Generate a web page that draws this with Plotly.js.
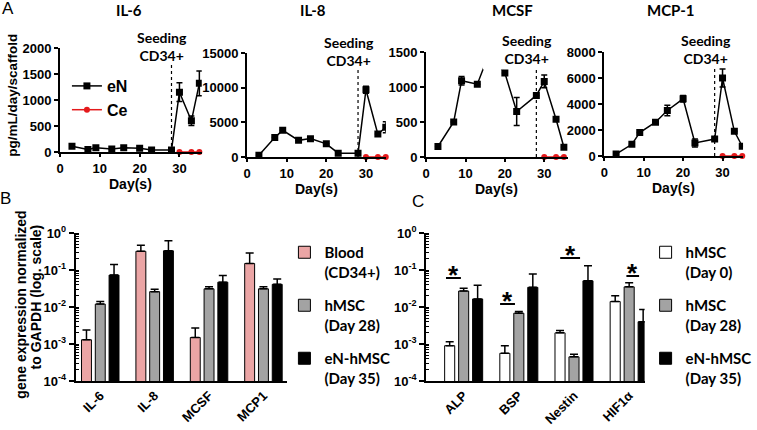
<!DOCTYPE html>
<html><head><meta charset="utf-8">
<script src="https://cdn.plot.ly/plotly-3.0.1.min.js"></script>
<style>html,body{margin:0;padding:0;background:#fff}</style>
</head><body><div id="chart" style="width:757px;height:430px"></div>
<script>
// ---------- Panel A data ----------
const days = [3, 7, 9, 13, 16, 20, 23, 28, 30, 33, 35];
const ceDays = [30, 33, 35];
const ceValues = [0, 0, 0];
const il6 = [110, 50, 80, 60, 80, 70, 40, 40, 1150, 600, 1320];
const il6Err = [0, 0, 0, 0, 0, 0, 0, 0, 180, 90, 240];
const il8 = [250, 2800, 3850, 2400, 2650, 1900, 550, 550, 9700, 3300, 4300];
const il8Err = [0, 0, 0, 0, 0, 0, 0, 0, 500, 0, 800];
const mcsf = [150, 500, 1090, 1040, 1480, 1200, 650, 880, 1080, 540, 140];
const mcsfErr = [0, 0, 60, 0, 0, 0, 200, 0, 90, 0, 0];
const mcp1 = [150, 900, 1800, 2600, 3500, 4400, 1000, 1300, 6000, 1900, 750];
const mcp1Err = [0, 0, 0, 0, 400, 250, 300, 0, 700, 0, 0];
const panelTitles = ['IL-6', 'IL-8', 'MCSF', 'MCP-1'];
const seedingDay = 28;

// ---------- Panel B data ----------
const genesB = ['IL-6', 'IL-8', 'MCSF', 'MCP1'];
const bloodB = [0.0013, 0.32, 0.0015, 0.15];
const bloodBErr = [0.0011, 0.15, 0.0012, 0.14];
const hmsc28B = [0.012, 0.026, 0.031, 0.031];
const hmsc28BErr = [0.002, 0.004, 0.004, 0.004];
const enB = [0.073, 0.33, 0.047, 0.041];
const enBErr = [0.067, 0.29, 0.024, 0.016];

// ---------- Panel C data ----------
const genesC = ['ALP', 'BSP', 'Nestin', 'HIF1α'];
const hmsc0C = [0.0009, 0.00056, 0.0020, 0.014];
const hmsc0CErr = [0.00025, 0.00034, 0.0003, 0.006];
const hmsc28C = [0.027, 0.0068, 0.00045, 0.035];
const hmsc28CErr = [0.005, 0.0007, 0.00008, 0.01];
const enC = [0.0165, 0.034, 0.051, 0.004];
const enCErr = [0.022, 0.044, 0.08, 0.0045];
const noErr = [0, 0, 0, 0];

const logTickVals = [1e-4, 1e-3, 1e-2, 1e-1, 1];
const logTickText = ['10<sup>-4</sup>', '10<sup>-3</sup>', '10<sup>-2</sup>', '10<sup>-1</sup>', '10<sup>0</sup>'];

// ---------- helpers ----------
const W = 757, H = 430;
const PX = v => v / W, PY = v => 1 - v / H;
const ARIAL = 'Liberation Sans, Arial, sans-serif';
const CALI = 'Lato, Open Sans, sans-serif';
const tickFont = {family: ARIAL, size: 13, color: '#000', weight: 'bold'};

function linAxis(domain, range, dtick, anchor, tlen) {
  return {domain, range, dtick, anchor, showline: true, linewidth: 2, linecolor: '#000',
    ticks: 'outside', ticklen: tlen, tickwidth: 2, tickcolor: '#000', showgrid: false,
    zeroline: false, tickfont: tickFont, tickformat: 'd', fixedrange: true};
}

const eNStyle = {line: {color: '#000', width: 1.5}, marker: {symbol: 'square', size: 7, color: '#000'}};
const ceStyle = {line: {color: '#e41a1c', width: 1.5}, marker: {symbol: 'circle', size: 6, color: '#e41a1c'}};

const series = [il6, il8, mcsf, mcp1];
const seriesErr = [il6Err, il8Err, mcsfErr, mcp1Err];
const traces = [];
series.forEach((vals, i) => {
  const n = i === 0 ? '' : String(i + 1);
  traces.push(Object.assign({type: 'scatter', mode: 'lines+markers', x: days, y: vals,
    xaxis: 'x' + n, yaxis: 'y' + n, name: 'eN', legend: 'legend3',
    showlegend: i === 0, cliponaxis: true,
    error_y: {type: 'data', array: seriesErr[i], color: '#000', thickness: 1.5, width: 3}}, eNStyle));
  traces.push(Object.assign({type: 'scatter', mode: 'lines+markers', x: ceDays, y: ceValues,
    xaxis: 'x' + n, yaxis: 'y' + n, name: 'Ce', legend: 'legend3',
    showlegend: i === 0, cliponaxis: false}, ceStyle));
});

function barTrace(x, y, err, xa, ya, name, color, legend, grp) {
  return {type: 'bar', x, y, xaxis: xa, yaxis: ya, name, legend, legendgroup: grp,
    marker: {color, line: {color: '#000', width: 1}},
    error_y: {type: 'data', symmetric: false, array: err, arrayminus: noErr, color: '#000', thickness: 1.5, width: 4}};
}
traces.push(barTrace(genesB, bloodB, bloodBErr, 'x5', 'y5', 'Blood<br>(CD34+)', '#eba5a5', 'legend', 'b1'));
traces.push(barTrace(genesB, hmsc28B, hmsc28BErr, 'x5', 'y5', 'hMSC<br>(Day 28)', '#a3a3a3', 'legend', 'b2'));
traces.push(barTrace(genesB, enB, enBErr, 'x5', 'y5', 'eN-hMSC<br>(Day 35)', '#000000', 'legend', 'b3'));
traces.push(barTrace(genesC, hmsc0C, hmsc0CErr, 'x6', 'y6', 'hMSC<br>(Day 0)', '#ffffff', 'legend2', 'c1'));
traces.push(barTrace(genesC, hmsc28C, hmsc28CErr, 'x6', 'y6', 'hMSC<br>(Day 28)', '#a3a3a3', 'legend2', 'c2'));
traces.push(barTrace(genesC, enC, enCErr, 'x6', 'y6', 'eN-hMSC<br>(Day 35)', '#000000', 'legend2', 'c3'));

function logAxis(domain, anchor) {
  return {type: 'log', domain, range: [-4, 0], anchor, showline: true, linewidth: 2, linecolor: '#000',
    ticks: 'outside', ticklen: 5, tickwidth: 2, tickcolor: '#000', showgrid: false, zeroline: false,
    tickvals: logTickVals, ticktext: logTickText, tickfont: tickFont, fixedrange: true,
    minor: {ticks: 'inside', ticklen: 3, tickwidth: 1, tickcolor: '#000', dtick: 'D1', showgrid: false}};
}
function catAxis(domain, range, anchor) {
  return {type: 'category', domain, range, anchor, showline: true, linewidth: 2, linecolor: '#000',
    ticks: '', tickangle: -45, showgrid: false, zeroline: false, tickfont: tickFont, fixedrange: true};
}

const topDomains = [[61, 205, 48, 152, 35.6, 2000, 500], [251, 392, 53, 157, 35, 15000, 5000],
                    [433, 577, 52, 157, 36, 1500, 500], [614, 755, 52, 156, 35.2, 8000, 2000]];
const titleX = [131, 318, 521, 682];

const legendFont = {family: CALI, size: 15, color: '#000', weight: 700};
const layout = {
  width: W, height: H, margin: {l: 0, r: 0, t: 0, b: 0},
  paper_bgcolor: '#fff', plot_bgcolor: 'rgba(0,0,0,0)',
  font: {family: ARIAL, color: '#000'},
  barmode: 'group', bargap: 0.24, bargroupgap: 0.28,
  annotations: [], shapes: [],
  legend: {x: PX(289), y: PY(236), xanchor: 'left', yanchor: 'top', bgcolor: 'rgba(0,0,0,0)',
    font: legendFont, tracegroupgap: 11, valign: 'top', traceorder: 'grouped'},
  legend2: {x: PX(656), y: PY(236), xanchor: 'left', yanchor: 'top', bgcolor: 'rgba(0,0,0,0)',
    font: legendFont, tracegroupgap: 11, valign: 'top', traceorder: 'grouped'},
  legend3: {x: PX(68), y: PY(69), xanchor: 'left', yanchor: 'top', bgcolor: 'rgba(0,0,0,0)',
    font: {family: ARIAL, size: 16, color: '#000', weight: 700}}
};

const ann = layout.annotations;
function paperText(x, y, text, font, angle) {
  ann.push({xref: 'paper', yref: 'paper', x: PX(x), y: PY(y), text, showarrow: false,
    xanchor: 'center', yanchor: 'middle', textangle: angle || 0, font});
}

topDomains.forEach((d, i) => {
  const n = i === 0 ? '' : String(i + 1);
  layout['xaxis' + n] = linAxis([PX(d[0]), PX(d[1])], [0, d[4]], 10, 'y' + n, 3);
  layout['yaxis' + n] = linAxis([PY(d[3]), PY(d[2])], [0, d[5]], d[6], 'x' + n, 4);
  paperText(titleX[i], 10, panelTitles[i], {family: CALI, size: 15, weight: 700, color: '#000'});
  ann.push({xref: 'x' + n + ' domain', yref: 'y' + n + ' domain', x: 0.5, y: 0, yshift: -32,
    text: 'Day(s)', showarrow: false, xanchor: 'center', yanchor: 'middle', borderpad: 0,
    font: {family: ARIAL, size: 14, weight: 700, color: '#000'}});
  ann.push({xref: 'x' + n, yref: 'y' + n + ' domain', x: seedingDay, y: 1, xshift: -9, yshift: 2,
    text: 'Seeding<br>CD34+', showarrow: false, xanchor: 'center', yanchor: 'middle',
    font: {family: CALI, size: 14, weight: 700, color: '#000'}});
  layout.shapes.push({type: 'line', xref: 'x' + n, yref: 'y' + n + ' domain', x0: seedingDay, x1: seedingDay,
    y0: 0, y1: 0.84, line: {color: '#000', width: 1.2, dash: 'dot'}});
});
// gap in the MCSF trace as in the original figure
layout.shapes.push({type: 'rect', xref: 'x3', yref: 'y3', x0: 14.4, x1: 19.5, y0: 1250, y1: 1600,
  fillcolor: '#fff', line: {width: 0}, layer: 'above'});

layout.xaxis5 = catAxis([PX(77), PX(292)], [-0.45, 3.44], 'y5');
layout.yaxis5 = logAxis([PY(381), PY(233)], 'x5');
layout.xaxis6 = catAxis([PX(433), PX(655)], [-0.68, 3.28], 'y6');
layout.yaxis6 = logAxis([PY(381), PY(233)], 'x6');

// panel letters and y titles
paperText(8, 9, 'A', {family: ARIAL, size: 17});
paperText(6, 198, 'B', {family: ARIAL, size: 17});
paperText(425, 201, 'C', {family: ARIAL, size: 17});
paperText(13, 95, 'pg/mL/day/scaffold', {family: ARIAL, size: 13.5, weight: 700}, -90);
paperText(21, 305, 'gene expression normalized', {family: ARIAL, size: 14, weight: 700}, -90);
paperText(37, 297, 'to GAPDH (log. scale)', {family: ARIAL, size: 14, weight: 700}, -90);

// significance marks in panel C (x in category units, y = log10 of value)
const sig = [[-0.32, -0.05, -1.216], [0.66, 0.93, -1.92], [1.75, 2.11, -0.676], [2.95, 3.18, -1.16]];
sig.forEach(s => {
  layout.shapes.push({type: 'line', xref: 'x6', yref: 'y6', x0: s[0], x1: s[1],
    y0: Math.pow(10, s[2]), y1: Math.pow(10, s[2]), line: {color: '#000', width: 2}});
  ann.push({xref: 'x6', yref: 'y6', x: (s[0] + s[1]) / 2, y: s[2], text: '*', showarrow: false,
    xanchor: 'center', yanchor: 'middle', yshift: 3, font: {family: ARIAL, size: 26, weight: 700}});
});

Plotly.newPlot('chart', traces, layout, {displayModeBar: false, staticPlot: true});
</script>
</body></html>
